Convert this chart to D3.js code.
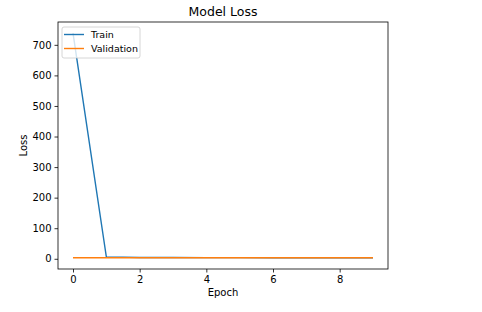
<!DOCTYPE html>
<html>
<head>
<meta charset="utf-8">
<script src="https://cdn.jsdelivr.net/npm/d3@7"></script>
<style>
  body { margin: 0; background: #fff; }
  svg { font-family: "DejaVu Sans", sans-serif; }
</style>
</head>
<body>
<div class="container"></div>
<script>
const epochs = [0, 1, 2, 3, 4, 5, 6, 7, 8, 9];
const trainLoss = [738, 6.2, 4.4, 4.0, 3.8, 3.7, 3.6, 3.5, 3.5, 3.4];
const valLoss = [3.6, 3.5, 3.5, 3.4, 3.4, 3.4, 3.3, 3.3, 3.3, 3.3];
const xTicks = [0, 2, 4, 6, 8];
const yTicks = [0, 100, 200, 300, 400, 500, 600, 700];

const w = 482;
const h = 312;
const padL = 58, padR = 388, padT = 22, padB = 269;

/* matplotlib style 5% margins */
const allY = trainLoss.concat(valLoss);
const yMin = d3.min(allY), yMax = d3.max(allY);
const yPad = (yMax - yMin) * 0.05;
const xPad = (d3.max(epochs) - d3.min(epochs)) * 0.05;

const xScale = d3.scaleLinear()
    .domain([d3.min(epochs) - xPad, d3.max(epochs) + xPad])
    .range([padL, padR]);
const yScale = d3.scaleLinear()
    .domain([yMin - yPad, yMax + yPad])
    .range([padB, padT]);

const svg = d3.select(".container")
    .append("svg")
    .attr("width", w)
    .attr("height", h);

const line = d3.line()
    .x((d, i) => xScale(epochs[i]))
    .y((d) => yScale(d));

svg.append("path")
   .datum(trainLoss)
   .attr("d", line)
   .attr("fill", "none")
   .attr("stroke", "#1f77b4")
   .attr("stroke-width", 1.4);

svg.append("path")
   .datum(valLoss)
   .attr("d", line)
   .attr("fill", "none")
   .attr("stroke", "#ff7f0e")
   .attr("stroke-width", 1.4);

/* axes */
const xAxis = d3.axisBottom(xScale).tickValues(xTicks).tickSize(3.5).tickPadding(3);
const yAxis = d3.axisLeft(yScale).tickValues(yTicks).tickSize(3.5).tickPadding(3);

const gx = svg.append("g")
   .attr("transform", "translate(0," + padB + ")")
   .call(xAxis);
const gy = svg.append("g")
   .attr("transform", "translate(" + padL + ",0)")
   .call(yAxis);

[gx, gy].forEach((g) => {
    g.select(".domain").remove();
    g.selectAll("text").attr("font-size", 10).attr("fill", "#000")
     .attr("font-family", "DejaVu Sans");
    g.selectAll("line").attr("stroke", "#000").attr("stroke-width", 0.8);
});

/* frame */
svg.append("rect")
   .attr("x", padL)
   .attr("y", padT)
   .attr("width", padR - padL)
   .attr("height", padB - padT)
   .attr("fill", "none")
   .attr("stroke", "#000")
   .attr("stroke-width", 0.8);

/* labels */
svg.append("text")
   .attr("x", (padL + padR) / 2)
   .attr("y", 16)
   .attr("text-anchor", "middle")
   .attr("font-size", 12.5)
   .text("Model Loss");

svg.append("text")
   .attr("x", (padL + padR) / 2)
   .attr("y", 296)
   .attr("text-anchor", "middle")
   .attr("font-size", 10)
   .text("Epoch");

svg.append("text")
   .attr("transform", "translate(27," + ((padT + padB) / 2) + ") rotate(-90)")
   .attr("text-anchor", "middle")
   .attr("font-size", 10)
   .text("Loss");

/* legend */
const legend = svg.append("g").attr("transform", "translate(62,27)");
legend.append("rect")
   .attr("width", 78)
   .attr("height", 31)
   .attr("rx", 2)
   .attr("fill", "#fff")
   .attr("fill-opacity", 0.8)
   .attr("stroke", "#ccc")
   .attr("stroke-width", 0.8);

const items = [["Train", "#1f77b4"], ["Validation", "#ff7f0e"]];
items.forEach((d, i) => {
    const y = 7.5 + i * 14;
    legend.append("line")
       .attr("x1", 2).attr("x2", 22)
       .attr("y1", y).attr("y2", y)
       .attr("stroke", d[1])
       .attr("stroke-width", 1.4);
    legend.append("text")
       .attr("x", 29)
       .attr("y", y + 3.5)
       .attr("font-size", 9.5)
       .text(d[0]);
});
</script>
</body>
</html>
